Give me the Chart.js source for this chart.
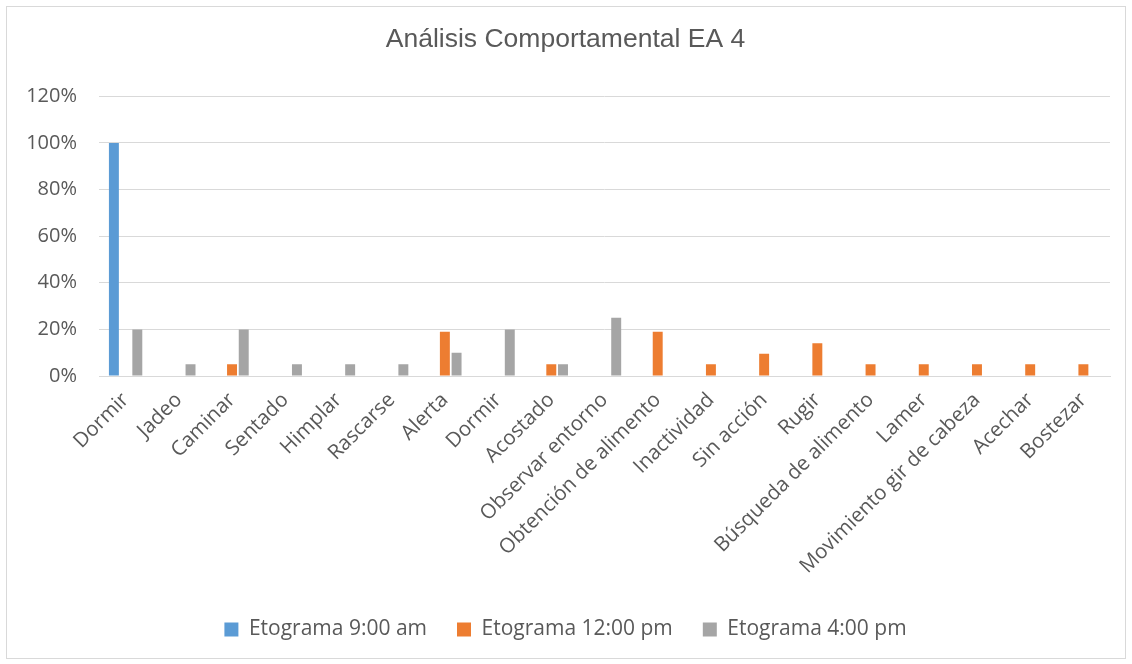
<!DOCTYPE html>
<html lang="es">
<head>
  <meta charset="UTF-8" />
  <title>Análisis Comportamental EA 4</title>
  <script src="https://cdn.jsdelivr.net/npm/chart.js"></script>
  <style>
    html, body { margin: 0; padding: 0; background: #fff; }
    .caja {
      position: absolute; left: 6px; top: 6px;
      width: 1120px; height: 653px;
      border: 1px solid #d9d9d9; box-sizing: border-box;
    }
  </style>
</head>
<body>
  <div class="caja">
    <canvas id="grafico" width="1118" height="651"></canvas>
  </div>

  <script>
    // datos
    const categorias = ['Dormir', 'Jadeo', 'Caminar', 'Sentado', 'Himplar', 'Rascarse', 'Alerta', 'Dormir',
      'Acostado', 'Observar entorno', 'Obtención de alimento', 'Inactividad', 'Sin acción', 'Rugir',
      'Búsqueda de alimento', 'Lamer', 'Movimiento gir de cabeza', 'Acechar', 'Bostezar'];
    const etograma9am = [100, null, null, null, null, null, null, null, null, null, null, null, null, null, null, null, null, null, null];
    const etograma12pm = [null, null, 5, null, null, null, 19, null, 5, null, 19, 5, 9.5, 14, 5, 5, 5, 5, 5];
    const etograma4pm = [20, 5, 20, 5, 5, 5, 10, 20, 5, 25, null, null, null, null, null, null, null, null, null];
    const ticksY = [0, 20, 40, 60, 80, 100, 120];

    const gris = '#595959';
    const fuente = 'Open Sans';

    const ctx = document.getElementById('grafico').getContext('2d');
    new Chart(ctx, {
      type: 'bar',
      data: {
        labels: categorias,
        datasets: [
          { label: 'Etograma 9:00 am', data: etograma9am, backgroundColor: '#5b9bd5' },
          { label: 'Etograma 12:00 pm', data: etograma12pm, backgroundColor: '#ed7d31' },
          { label: 'Etograma 4:00 pm', data: etograma4pm, backgroundColor: '#a5a5a5' }
        ]
      },
      options: {
        responsive: false,
        animation: false,
        categoryPercentage: 0.66,
        barPercentage: 0.85,
        // un poco de padding izquierdo para que titulo y leyenda queden algo a la derecha
        layout: { padding: { left: 14, right: 15, top: 0, bottom: 8 } },
        plugins: {
          title: {
            display: true,
            text: 'Análisis Comportamental EA 4',
            color: gris,
            font: { family: 'Liberation Sans', size: 26.5, weight: 'normal' },
            padding: { top: 17, bottom: 40.5 }
          },
          legend: {
            position: 'bottom',
            labels: {
              color: gris,
              font: { family: fuente, size: 21 },
              boxWidth: 14, boxHeight: 14,
              padding: 30
            }
          },
          tooltip: { enabled: false }
        },
        scales: {
          x: {
            grid: { display: false },
            border: { color: '#d9d9d9' },
            ticks: {
              color: gris,
              font: { family: fuente, size: 20.5 },
              minRotation: 45, maxRotation: 45,
              autoSkip: false, padding: 4
            },
            afterFit: s => { s.height = 213; }
          },
          y: {
            min: 0, max: 120,
            afterBuildTicks: s => { s.ticks = ticksY.map(v => ({ value: v })); },
            grid: { color: '#d9d9d9', drawTicks: false },
            border: { display: false },
            ticks: {
              color: gris,
              font: { family: fuente, size: 20 },
              padding: 22,
              callback: v => v + '%'
            },
            afterFit: s => { s.width = 78; }
          }
        }
      }
    });
  </script>
</body>
</html>
